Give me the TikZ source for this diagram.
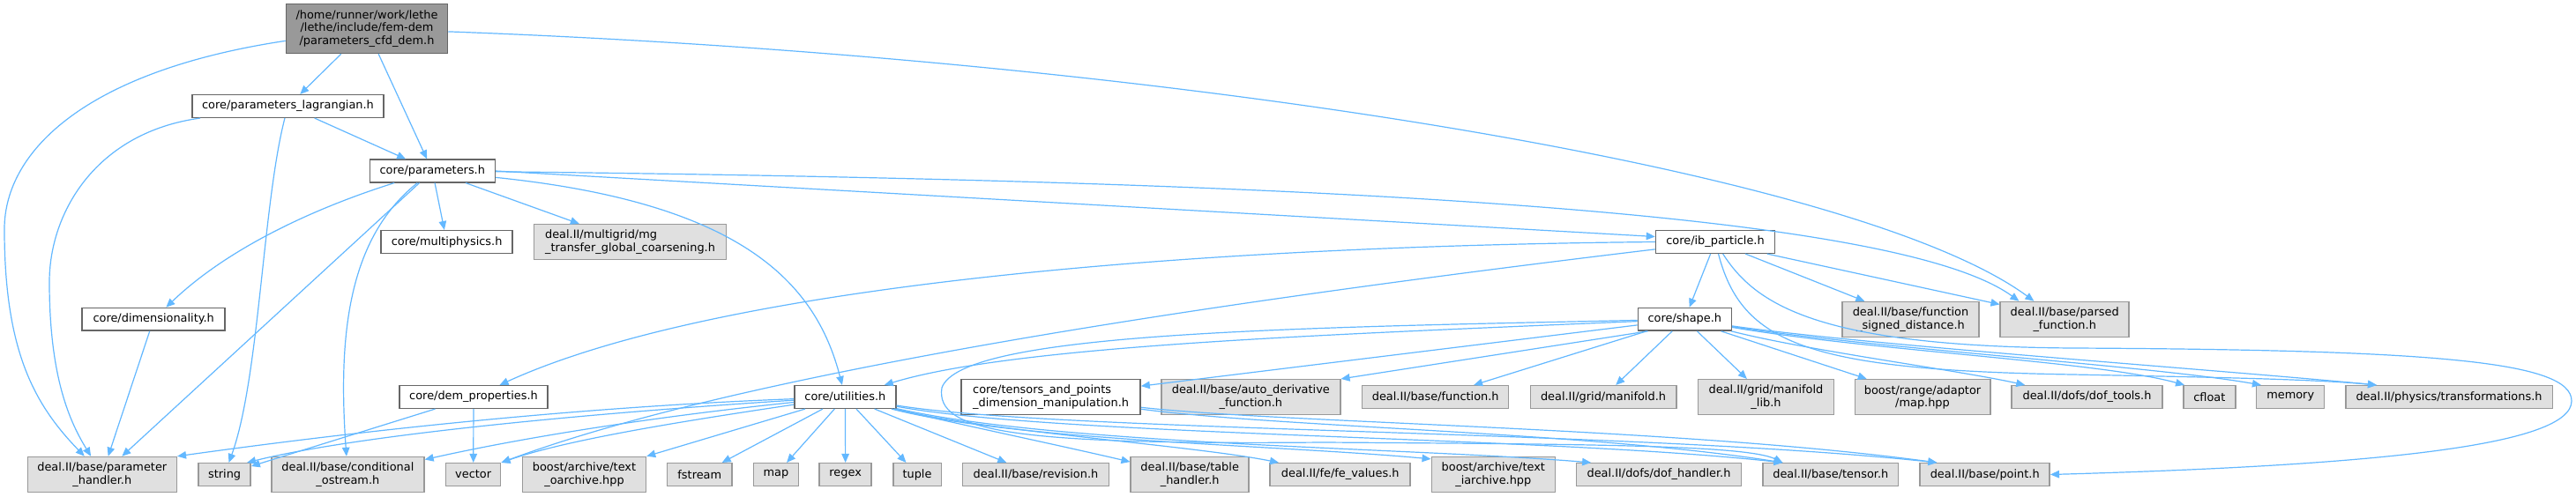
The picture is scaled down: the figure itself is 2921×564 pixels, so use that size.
\documentclass[tikz,border=0pt]{standalone}
\usepackage{fontspec}
\setmainfont{DejaVu Sans}
\usepackage{xcolor}
\usepackage{tikz}
\usetikzlibrary{arrows.meta}

\definecolor{edgeblue}{HTML}{63B8FF}
\definecolor{extfill}{HTML}{E0E0E0}
\definecolor{extborder}{HTML}{999999}
\definecolor{docborder}{HTML}{666666}
\definecolor{mainfill}{HTML}{999999}

\begin{document}
\begin{tikzpicture}[x=1pt, y=-1pt, >={Triangle[length=10pt,width=8.5pt]},
    every node/.style={font=\fontsize{12.9}{14.3}\selectfont, inner sep=0pt},
    mainfile/.style={draw=docborder, fill=mainfill, line width=1.5pt, align=center},
    docfile/.style={draw=docborder, fill=white, line width=1.5pt, align=center, minimum height=25.6pt},
    extfile/.style={draw=extborder, fill=extfill, line width=1.5pt, align=center, minimum height=25.6pt},
    twoline/.style={minimum height=40pt},
    incl/.style={->, draw=edgeblue, line width=1.2pt}]
    \path[use as bounding box, fill=white] (0,0) rectangle (2921,564);

    \node[mainfile, minimum width=183pt, minimum height=56pt] (cfddem) at (416,32.5) {/home/runner/work/lethe\\/lethe/include/fem-dem\\/parameters\_cfd\_dem.h};
    \node[docfile, minimum width=217pt] (lagrangian) at (326.5,120.5) {core/parameters\_lagrangian.h};
    \node[docfile, minimum width=142pt] (parameters) at (490.3,194) {core/parameters.h};
    \node[docfile, minimum width=149pt] (multiphysics) at (506.6,274.5) {core/multiphysics.h};
    \node[extfile, twoline, minimum width=218pt, align=left] (mgtransfer) at (714.5,274.7) {deal.II/multigrid/mg\\\_transfer\_global\_coarsening.h};
    \node[docfile, minimum width=162pt] (dimensionality) at (174.2,362.3) {core/dimensionality.h};
    \node[docfile, minimum width=168pt] (demprop) at (537,450.5) {core/dem\_properties.h};
    \node[docfile, minimum width=135pt] (ibparticle) at (1945,274.5) {core/ib\_particle.h};
    \node[docfile, minimum width=106pt] (shape) at (1910.3,362.3) {core/shape.h};
    \node[extfile, twoline, minimum width=155pt] (fsigned) at (2166.5,362.5) {deal.II/base/function\\\_signed\_distance.h};
    \node[extfile, twoline, minimum width=146pt] (parsedfn) at (2341.2,362.5) {deal.II/base/parsed\\\_function.h};
    \node[docfile, minimum width=115pt] (utilities) at (958.4,450.5) {core/utilities.h};
    \node[docfile, twoline, minimum width=203pt, align=left] (tensorsdim) at (1191.6,450.7) {core/tensors\_and\_points\\\_dimension\_manipulation.h};
    \node[extfile, twoline, minimum width=203pt] (autoderiv) at (1418.3,450.7) {deal.II/base/auto\_derivative\\\_function.h};
    \node[extfile, minimum width=166pt] (functionh) at (1627.7,450.5) {deal.II/base/function.h};
    \node[extfile, minimum width=165.5pt] (manifold) at (1818,450.5) {deal.II/grid/manifold.h};
    \node[extfile, twoline, minimum width=154pt] (manifoldlib) at (2002.5,450.7) {deal.II/grid/manifold\\\_lib.h};
    \node[extfile, twoline, minimum width=153.5pt] (rangemap) at (2180,450.7) {boost/range/adaptor\\/map.hpp};
    \node[extfile, minimum width=171pt] (doftools) at (2366.5,450.5) {deal.II/dofs/dof\_tools.h};
    \node[extfile, minimum width=59pt] (cfloat) at (2505.3,450.5) {cfloat};
    \node[extfile, minimum width=77pt] (memory) at (2597.2,450.5) {memory};
    \node[extfile, minimum width=234.5pt] (transforms) at (2777,450.5) {deal.II/physics/transformations.h};

    \node[extfile, twoline, minimum width=169pt] (paramhandler) at (115.8,538.5) {deal.II/base/parameter\\\_handler.h};
    \node[extfile, minimum width=59pt] (string) at (254.6,538.5) {string};
    \node[extfile, twoline, minimum width=173pt] (condostream) at (394.4,538.5) {deal.II/base/conditional\\\_ostream.h};
    \node[extfile, minimum width=62pt] (vector) at (536.7,538.5) {vector};
    \node[extfile, twoline, minimum width=140pt] (oarchive) at (662.5,538.5) {boost/archive/text\\\_oarchive.hpp};
    \node[extfile, minimum width=73.5pt] (fstream) at (793.3,538.5) {fstream};
    \node[extfile, minimum width=51pt] (map) at (880,538.5) {map};
    \node[extfile, minimum width=59pt] (regex) at (958.7,538.5) {regex};
    \node[extfile, minimum width=54.5pt] (tuple) at (1040,538.5) {tuple};
    \node[extfile, minimum width=166pt] (revision) at (1174.5,538.5) {deal.II/base/revision.h};
    \node[extfile, twoline, minimum width=134pt] (tablehandler) at (1349.2,538.5) {deal.II/base/table\\\_handler.h};
    \node[extfile, minimum width=159pt] (fevalues) at (1519.7,538.5) {deal.II/fe/fe\_values.h};
    \node[extfile, twoline, minimum width=140pt] (iarchive) at (1693.3,538.5) {boost/archive/text\\\_iarchive.hpp};
    \node[extfile, minimum width=187pt] (dofhandler) at (1881,538.5) {deal.II/dofs/dof\_handler.h};
    \node[extfile, minimum width=153.5pt] (tensor) at (2075.8,538.5) {deal.II/base/tensor.h};
    \node[extfile, minimum width=147pt] (point) at (2250.7,538.5) {deal.II/base/point.h};

    \draw[incl] (cfddem) .. controls (100,80) and (5,170) .. (5,260) .. controls (5,400) and (40,460) .. (paramhandler);
    \draw[incl] (cfddem) -- (lagrangian);
    \draw[incl] (cfddem) -- (parameters);
    \draw[incl] (cfddem) .. controls (1300,65) and (2100,190) .. ([xshift=39pt]parsedfn.north west);

    \draw[incl] (lagrangian) .. controls (110,150) and (56,240) .. (56,320) .. controls (56,430) and (80,480) .. (paramhandler);
    \draw[incl] (lagrangian) .. controls (298,230) and (294,430) .. (string);
    \draw[incl] (lagrangian) -- (parameters);

    \draw[incl] (parameters) .. controls (360,235) and (260,280) .. (dimensionality);
    \draw[incl] (parameters) -- (paramhandler);
    \draw[incl] (parameters) .. controls (395,270) and (383,380) .. (condostream);
    \draw[incl] (parameters) -- (multiphysics);
    \draw[incl] (parameters) -- (mgtransfer);
    \draw[incl] (parameters) .. controls (840,230) and (925,320) .. (utilities);
    \draw[incl] (parameters.east) -- (ibparticle.175);
    \draw[incl] (parameters) .. controls (1500,205) and (2150,240) .. ([xshift=22pt]parsedfn.north west);

    \draw[incl] (dimensionality) -- (paramhandler);

    \draw[incl] (ibparticle.west) .. controls (1300,280) and (800,330) .. (demprop);
    \draw[incl] (ibparticle.187) .. controls (1400,340) and (850,420) .. (vector.north east);
    \draw[incl] (ibparticle) -- (shape);
    \draw[incl] (ibparticle) -- (fsigned);
    \draw[incl] (ibparticle.-13) -- (parsedfn.167);
    \draw[incl] (ibparticle) .. controls (1990,345) and (2060,393) .. (2350,395) .. controls (2760,397) and (2916,410) .. (2916,455) .. controls (2916,505) and (2700,528) .. (point.east);
    \draw[incl] (ibparticle) .. controls (1975,390) and (2050,420) .. (2350,425) .. controls (2500,428) and (2620,430) .. ([xshift=36pt]transforms.north west);

    \draw[incl] (shape) .. controls (1500,380) and (1150,392) .. (utilities);
    \draw[incl] (shape) .. controls (1450,372) and (1090,378) .. (1068,440) .. controls (1060,490) and (1150,505) .. (1500,502) .. controls (1800,504) and (1980,505) .. (tensor.166);
    \draw[incl] (shape) -- (tensorsdim);
    \draw[incl] (shape.-162) -- (autoderiv.north east);
    \draw[incl] (shape) -- (functionh);
    \draw[incl] (shape) -- (manifold);
    \draw[incl] (shape) -- (manifoldlib);
    \draw[incl] (shape) -- (rangemap);
    \draw[incl] (shape) .. controls (2050,398) and (2220,420) .. ([xshift=16pt]doftools.north west);
    \draw[incl] (shape) .. controls (2120,398) and (2380,410) .. ([xshift=2pt]cfloat.north west);
    \draw[incl] (shape) .. controls (2120,395) and (2440,415) .. ([xshift=6pt]memory.north west);
    \draw[incl] (shape) .. controls (2120,392) and (2520,420) .. ([xshift=36pt]transforms.north west);

    \draw[incl] (demprop) -- (string);
    \draw[incl] (demprop) -- (vector);

    \draw[incl] (utilities) .. controls (650,462) and (400,490) .. (paramhandler.north east);
    \draw[incl] (utilities) .. controls (650,470) and (400,495) .. (string.28);
    \draw[incl] (utilities) .. controls (750,472) and (600,495) .. (condostream.11);
    \draw[incl] (utilities) .. controls (760,480) and (640,500) .. (vector.north east);
    \draw[incl] (utilities) -- (oarchive.north east);
    \draw[incl] (utilities) -- (fstream);
    \draw[incl] (utilities) -- (map);
    \draw[incl] (utilities) -- (regex);
    \draw[incl] (utilities) -- (tuple);
    \draw[incl] (utilities) -- (revision);
    \draw[incl] (utilities) .. controls (1080,480) and (1200,505) .. (tablehandler.168);
    \draw[incl] (utilities) .. controls (1120,490) and (1350,505) .. (fevalues.169);
    \draw[incl] (utilities) .. controls (1150,500) and (1450,505) .. (iarchive.166);
    \draw[incl] (utilities) .. controls (1200,505) and (1600,508) .. (dofhandler.170);
    \draw[incl] (utilities) .. controls (1200,495) and (1750,495) .. (tensor.166);
    \draw[incl] (utilities) .. controls (1200,490) and (1850,488) .. (point.166);

    \draw[incl] (tensorsdim) .. controls (1450,485) and (1800,490) .. (tensor.166);
    \draw[incl] (tensorsdim) .. controls (1450,480) and (1900,485) .. (point.166);
\end{tikzpicture}
\end{document}
